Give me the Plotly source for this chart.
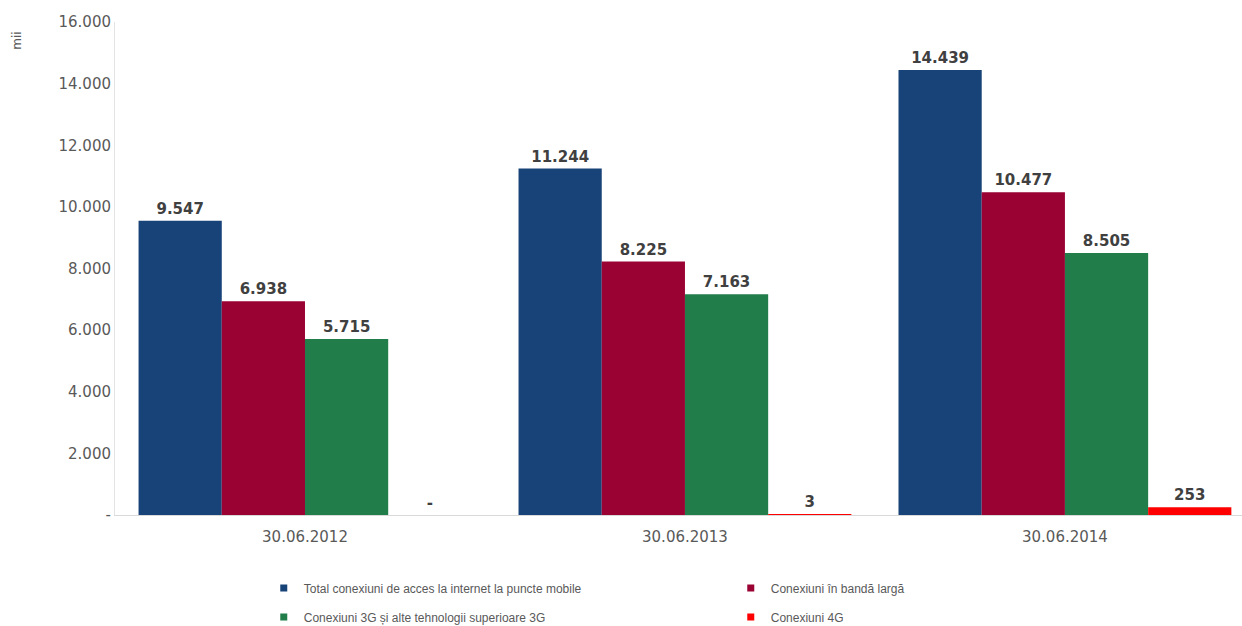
import plotly.graph_objects as go

# Connection counts (thousands) at each reporting date
dates = ["30.06.2012", "30.06.2013", "30.06.2014"]
total_mobile = [9547, 11244, 14439]
broadband = [6938, 8225, 10477]
conn_3g = [5715, 7163, 8505]
conn_4g = [0, 3, 253]

series_names = [
    "Total conexiuni de acces la internet la puncte mobile",
    "Conexiuni în bandă largă",
    "Conexiuni 3G și alte tehnologii superioare 3G",
    "Conexiuni 4G",
]
series_values = [total_mobile, broadband, conn_3g, conn_4g]
series_colors = ["#184379", "#9a0234", "#217d4a", "#ff0000"]

y_ticks = [0, 2000, 4000, 6000, 8000, 10000, 12000, 14000, 16000]


def fmt(v):
    # thousands separator as a dot, zero shown as a dash
    if v == 0:
        return "-"
    return f"{v:,}".replace(",", ".")


fig = go.Figure()

for name, vals, color in zip(series_names, series_values, series_colors):
    fig.add_trace(go.Bar(
        x=dates,
        y=vals,
        name=name,
        marker=dict(color=color, line=dict(width=0)),
        text=[fmt(v) for v in vals],
        textposition="outside",
        cliponaxis=False,
        textfont=dict(family="DejaVu Sans", size=15, color="#404040", weight="bold"),
        showlegend=False,
    ))

# legend entries with small square swatches, two per row
for i, (name, color) in enumerate(zip(series_names, series_colors)):
    fig.add_trace(go.Scatter(
        x=[None], y=[None],
        mode="markers",
        marker=dict(symbol="square", size=7, color=color),
        name=name,
        showlegend=True,
        legend="legend" if i < 2 else "legend2",
    ))

legend_style = dict(
    orientation="h",
    xanchor="left",
    yanchor="middle",
    x=0.132,
    font=dict(family="Liberation Sans", size=12, color="#595959"),
    itemwidth=30,
    entrywidth=422,
    bgcolor="rgba(0,0,0,0)",
)

fig.update_layout(
    width=1242,
    height=626,
    margin=dict(l=115, r=0, t=22, b=111, autoexpand=False),
    paper_bgcolor="white",
    plot_bgcolor="white",
    barmode="group",
    bargap=0.124,
    bargroupgap=0,
    xaxis=dict(
        type="category",
        range=[-0.5, 2.466],
        showline=True,
        linecolor="#d9d9d9",
        linewidth=1,
        ticks="",
        ticklabelstandoff=8,
        tickfont=dict(family="DejaVu Sans", size=15, color="#595959"),
        showgrid=False,
        zeroline=False,
    ),
    yaxis=dict(
        range=[0, 16000],
        tickvals=y_ticks,
        ticktext=[fmt(v) for v in y_ticks],
        tickfont=dict(family="DejaVu Sans", size=15, color="#595959"),
        showline=True,
        linecolor="#e3e3e3",
        linewidth=1,
        ticks="",
        ticklabelstandoff=0,
        showgrid=False,
        zeroline=False,
    ),
    legend=dict(y=-0.148, **legend_style),
    legend2=dict(y=-0.207, **legend_style),
    annotations=[
        dict(
            text="mii",
            xref="paper", yref="paper",
            x=-0.087, y=0.962,
            xanchor="center", yanchor="middle",
            showarrow=False,
            textangle=-90,
            font=dict(family="DejaVu Sans", size=12, color="#595959"),
        )
    ],
)

fig.write_html("out.html")
